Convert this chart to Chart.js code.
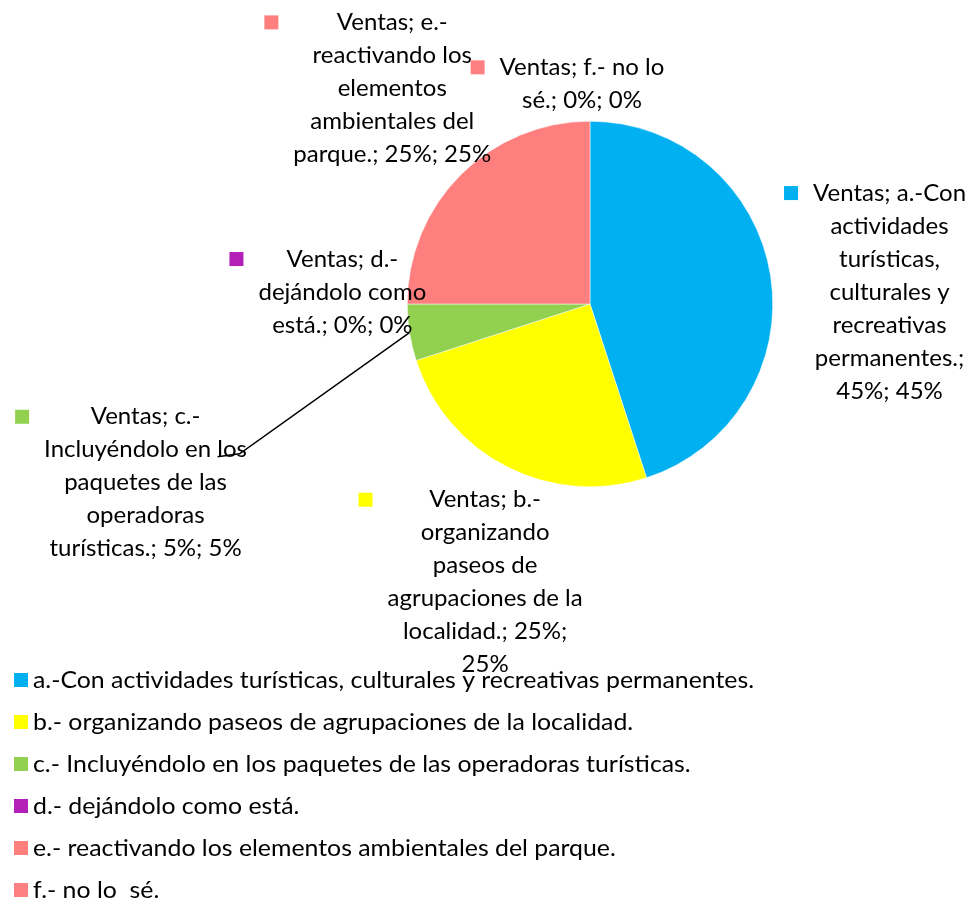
<!DOCTYPE html>
<html lang="es">
<head>
<meta charset="UTF-8">
<title>Ventas</title>
<script src="https://cdn.jsdelivr.net/npm/chart.js"></script>
<style>
    body { margin: 0; background: #fff; }
    #wrap { width: 973px; height: 902px; }
</style>
</head>
<body>
<div id="wrap"><canvas id="grafica" width="973" height="902"></canvas></div>
<script>
// datos
const serie = "Ventas";
const categorias = [
    "a.-Con actividades turísticas, culturales y recreativas permanentes.",
    "b.- organizando paseos de agrupaciones de la localidad.",
    "c.- Incluyéndolo en los paquetes de las operadoras turísticas.",
    "d.- dejándolo como está.",
    "e.- reactivando los elementos ambientales del parque.",
    "f.- no lo  sé."
];
const valores = [45, 25, 5, 0, 25, 0];
const colores = ["#00B0F0", "#FFFF00", "#92D050", "#B220B8", "#FF7F7F", "#FF8080"];

// palabras por línea en cada etiqueta
const cortes = [[2, 1, 1, 2, 1, 1, 2], [2, 1, 2, 3, 2, 1], [2, 3, 3, 1, 3], [2, 2, 3], [2, 2, 1, 2, 3], [4, 3]];
// posición de cada etiqueta (centro del bloque, primera línea) en radios desde el centro
const posEtiqueta = [[1.639, -0.607], [-0.574, 1.071], [-2.432, 0.617], [-1.355, -0.246], [-1.082, -1.541], [-0.044, -1.295]];

function textoEtiqueta(i) {
    const palabras = (serie + "; " + categorias[i] + "; " + valores[i] + "%; " + valores[i] + "%").split(/\s+/);
    let lineas = [], k = 0;
    cortes[i].forEach(n => { lineas.push(palabras.slice(k, k + n).join(" ")); k += n; });
    return lineas;
}

const etiquetas = {
    id: "etiquetas",
    afterDatasetsDraw(chart) {
        const ctx = chart.ctx;
        const arco = chart.getDatasetMeta(0).data;
        const cx = arco[0].x, cy = arco[0].y, r = arco[0].outerRadius;
        ctx.save();
        ctx.font = "24px Lato";
        ctx.textAlign = "center";
        ctx.textBaseline = "middle";
        categorias.forEach((c, i) => {
            const lineas = textoEtiqueta(i);
            const x = cx + posEtiqueta[i][0] * r;
            const y = cy + posEtiqueta[i][1] * r;
            const ancho = Math.max(...lineas.map(l => ctx.measureText(l).width));
            ctx.fillStyle = colores[i];
            ctx.fillRect(x - ancho / 2 - 29, y - 7, 14, 14);
            ctx.fillStyle = "#000";
            lineas.forEach((l, k) => ctx.fillText(l, x, y + k * 33));
        });
        // línea guía de c
        const a = arco[2];
        const medio = (a.startAngle + a.endAngle) / 2;
        const ex = cx + posEtiqueta[2][0] * r, ey = cy + posEtiqueta[2][1] * r;
        ctx.strokeStyle = "#000";
        ctx.lineWidth = 1.5;
        ctx.beginPath();
        ctx.moveTo(cx + Math.cos(medio) * r, cy + Math.sin(medio) * r);
        ctx.lineTo(ex + 94, ey + 37);
        ctx.lineTo(ex + 72, ey + 40);
        ctx.stroke();

        // leyenda
        ctx.font = "23px Lato";
        ctx.textAlign = "left";
        categorias.forEach((c, i) => {
            const y = 680 + i * 42;
            ctx.fillStyle = colores[i];
            ctx.fillRect(14, y - 7, 14, 14);
            ctx.fillStyle = "#000";
            ctx.save();
            ctx.translate(33, y + 1);
            ctx.scale(1.08, 1);
            ctx.fillText(c, 0, 0);
            ctx.restore();
        });
        ctx.restore();
    }
};

new Chart(document.getElementById("grafica"), {
    type: "pie",
    data: {
        labels: categorias,
        datasets: [{
            label: serie,
            data: valores,
            backgroundColor: colores,
            borderColor: "#fff",
            borderWidth: 0.5
        }]
    },
    options: {
        responsive: false,
        animation: false,
        layout: { padding: { left: 407, right: 200, top: 121, bottom: 415 } },
        plugins: {
            legend: { display: false },
            tooltip: { enabled: false }
        }
    },
    plugins: [etiquetas]
});
</script>
</body>
</html>
